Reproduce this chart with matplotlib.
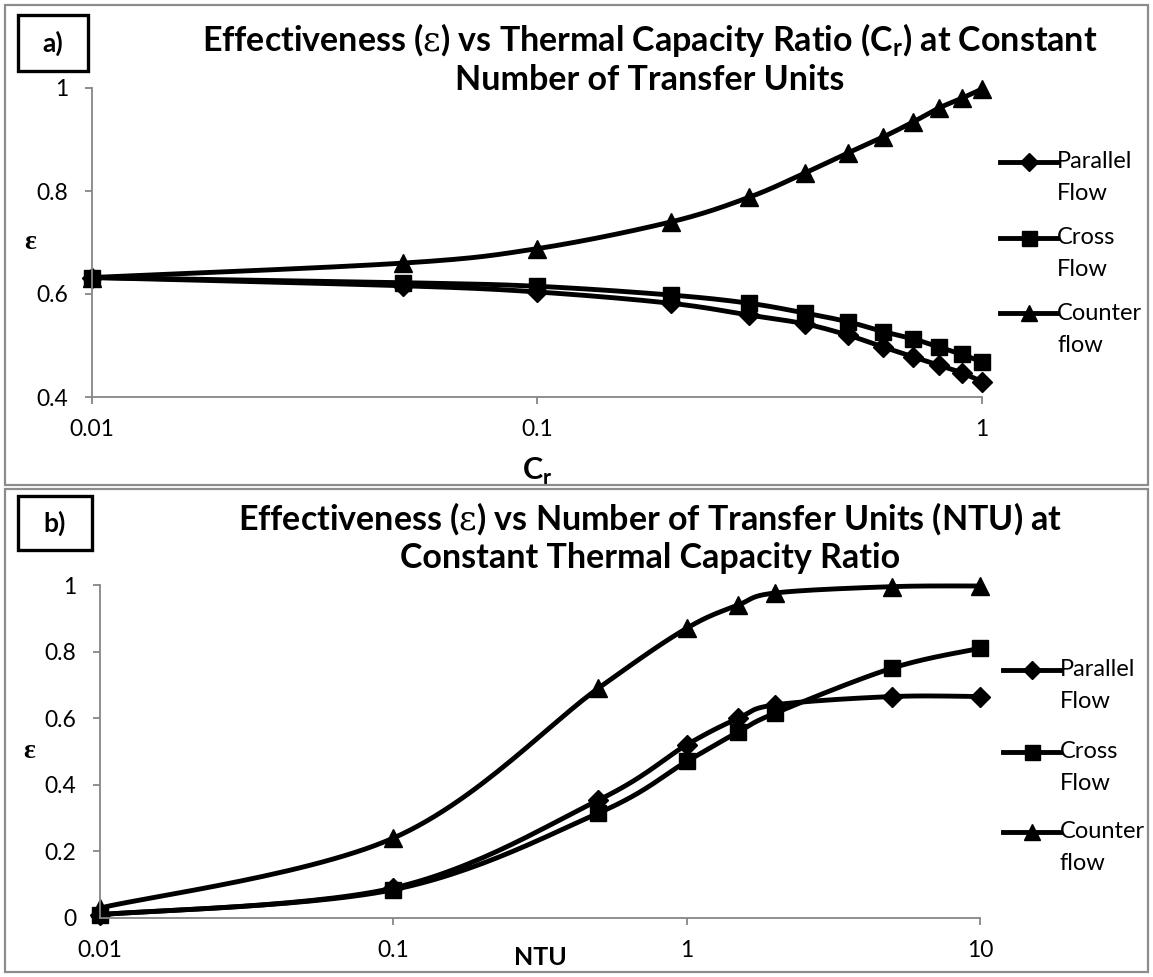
import numpy as np
import matplotlib
matplotlib.use('Agg')
import matplotlib.pyplot as plt
from matplotlib.lines import Line2D
from matplotlib.patches import Rectangle
from matplotlib.ticker import FixedLocator, FixedFormatter, NullLocator

plt.rcParams['font.family'] = ['Lato', 'DejaVu Sans']
plt.rcParams['mathtext.fontset'] = 'dejavuserif'

# a) effectiveness vs thermal capacity ratio
cr = [0.01, 0.05, 0.1, 0.2, 0.3, 0.4, 0.5, 0.6, 0.7, 0.8, 0.9, 1.0]
a_parallel = [0.632, 0.616, 0.604, 0.582, 0.559, 0.542, 0.520, 0.497, 0.478, 0.462, 0.447, 0.430]
a_cross = [0.632, 0.622, 0.615, 0.598, 0.582, 0.563, 0.546, 0.527, 0.513, 0.497, 0.483, 0.468]
a_counter = [0.632, 0.660, 0.688, 0.740, 0.788, 0.835, 0.874, 0.905, 0.934, 0.961, 0.980, 0.998]

# b) effectiveness vs NTU
ntu = [0.01, 0.1, 0.5, 1, 1.5, 2, 5, 10]
b_parallel = [0.01, 0.09, 0.354, 0.52, 0.60, 0.64, 0.665, 0.665]
b_cross = [0.01, 0.085, 0.315, 0.47, 0.559, 0.615, 0.75, 0.81]
b_counter = [0.03, 0.24, 0.69, 0.87, 0.94, 0.976, 0.995, 0.997]

series_names = ['Parallel\nFlow', 'Cross\nFlow', 'Counter\nflow']
markers = ['D', 's', '^']
msizes = [10, 12, 13]

W, H = 1153, 977
fig = plt.figure(figsize=(W / 100, H / 100), dpi=100)


def fx(x):
    return x / W


def fy(y):
    return 1 - y / H


def smooth(x, y, n=30):
    # excel-style smoothed line, done in log-x space
    pts = np.column_stack([np.log10(x), y])
    out = []
    for i in range(len(pts) - 1):
        p0 = pts[max(i - 1, 0)]
        p1 = pts[i]
        p2 = pts[i + 1]
        p3 = pts[min(i + 2, len(pts) - 1)]
        c1 = p1 + (p2 - p0) / 6
        c2 = p2 - (p3 - p1) / 6
        t = np.linspace(0, 1, n)[:, None]
        seg = (1 - t) ** 3 * p1 + 3 * (1 - t) ** 2 * t * c1 + 3 * (1 - t) * t ** 2 * c2 + t ** 3 * p2
        out.append(seg if i == 0 else seg[1:])
    out = np.vstack(out)
    return 10 ** out[:, 0], out[:, 1]


def style_axes(ax, xticks, xlabels, yticks, ylabels):
    ax.set_xscale('log')
    for s in ['top', 'right']:
        ax.spines[s].set_visible(False)
    for s in ['left', 'bottom']:
        ax.spines[s].set_color('#868686')
        ax.spines[s].set_linewidth(1.3)
    ax.xaxis.set_major_locator(FixedLocator(xticks))
    ax.xaxis.set_major_formatter(FixedFormatter(xlabels))
    ax.xaxis.set_minor_locator(NullLocator())
    ax.set_yticks(yticks)
    ax.set_yticklabels(ylabels)
    ax.tick_params(axis='both', direction='out', length=5, width=1.3, color='#868686',
                   labelsize=16.5, labelcolor='black')
    ax.tick_params(axis='x', pad=11)
    ax.tick_params(axis='y', pad=12)


def draw_series(ax, x, ys):
    for y, m, ms in zip(ys, markers, msizes):
        sx, sy = smooth(x, y)
        ax.plot(sx, sy, color='black', lw=3.5, solid_capstyle='round', clip_on=False)
        ax.plot(x, y, ls='none', marker=m, ms=ms, color='black', clip_on=False)


def draw_legend(x0, ys):
    for yy, name, m, ms in zip(ys, series_names, markers, msizes):
        fig.add_artist(Line2D([fx(x0), fx(x0 + 57)], [fy(yy), fy(yy)], color='black', lw=3.5))
        fig.add_artist(Line2D([fx(x0 + 28.5)], [fy(yy)], ls='none', marker=m, ms=ms * 0.9,
                              color='black'))
        first, second = name.split('\n')
        fig.text(fx(x0 + 57), fy(yy), first, fontsize=17, va='center', ha='left')
        fig.text(fx(x0 + 57), fy(yy + 32), second, fontsize=17, va='center', ha='left')


def panel_box(x0, y0, x1, y1, label):
    fig.add_artist(Rectangle((fx(x0), fy(y1)), fx(x1 - x0), (y1 - y0) / H,
                             transform=fig.transFigure, fill=False, ec='black', lw=2.4))
    fig.text(fx((x0 + x1) / 2), fy((y0 + y1) / 2), label, fontsize=19, fontweight='bold',
             ha='center', va='center')


# outer frames
fig.add_artist(Rectangle((fx(5), fy(485)), fx(1143), 480 / H, transform=fig.transFigure,
                         fill=False, ec='#8c8c8c', lw=1.6))
fig.add_artist(Rectangle((fx(5), fy(972)), fx(1143), 483 / H, transform=fig.transFigure,
                         fill=False, ec='#8c8c8c', lw=1.6))

# panel a
ax1 = fig.add_axes([fx(92), fy(397), (982 - 92) / W, (397 - 88) / H])
draw_series(ax1, cr, [a_parallel, a_cross, a_counter])
ax1.set_xlim(0.01, 1)
ax1.set_ylim(0.4, 1)
style_axes(ax1, [0.01, 0.1, 1], ['0.01', '0.1', '1'], [0.4, 0.6, 0.8, 1.0],
           ['0.4', '0.6', '0.8', '1'])
ax1.set_xlabel(r'C$_\mathregular{r}$', fontsize=22, fontweight='bold')
ax1.xaxis.set_label_coords(0.5, -0.19)
ax1.set_ylabel('ε', fontsize=20, fontweight='bold', rotation=0, va='center',
               family=['Liberation Serif', 'DejaVu Serif'])
ax1.yaxis.set_label_coords(-0.07, 0.5)
fig.text(fx(650), fy(40),
         r'Effectiveness ($\mathrm{\varepsilon}$) vs Thermal Capacity Ratio (C$_\mathregular{r}$) at Constant',
         fontsize=24.5, fontweight='bold', ha='center', va='center')
fig.text(fx(650), fy(80), 'Number of Transfer Units', fontsize=24.5, fontweight='bold',
         ha='center', va='center')
panel_box(18, 15, 88, 71, 'a)')
draw_legend(1000, [162, 238, 313])

# panel b
ax2 = fig.add_axes([fx(100), fy(918), (980 - 100) / W, (918 - 585) / H])
draw_series(ax2, ntu, [b_parallel, b_cross, b_counter])
ax2.set_xlim(0.01, 10)
ax2.set_ylim(0, 1)
style_axes(ax2, [0.01, 0.1, 1, 10], ['0.01', '0.1', '1', '10'],
           [0, 0.2, 0.4, 0.6, 0.8, 1.0], ['0', '0.2', '0.4', '0.6', '0.8', '1'])
ax2.set_xlabel('NTU', fontsize=18, fontweight='bold')
ax2.xaxis.set_label_coords(0.5, -0.085)
ax2.set_ylabel('ε', fontsize=20, fontweight='bold', rotation=0, va='center',
               family=['Liberation Serif', 'DejaVu Serif'])
ax2.yaxis.set_label_coords(-0.08, 0.5)
fig.text(fx(650), fy(519),
         r'Effectiveness ($\mathrm{\varepsilon}$) vs Number of Transfer Units (NTU) at',
         fontsize=24.5, fontweight='bold', ha='center', va='center')
fig.text(fx(650), fy(558), 'Constant Thermal Capacity Ratio', fontsize=24.5, fontweight='bold',
         ha='center', va='center')
panel_box(18, 496, 92, 550, 'b)')
draw_legend(1003, [670, 752, 832])

fig.savefig('out.png', dpi=100)
